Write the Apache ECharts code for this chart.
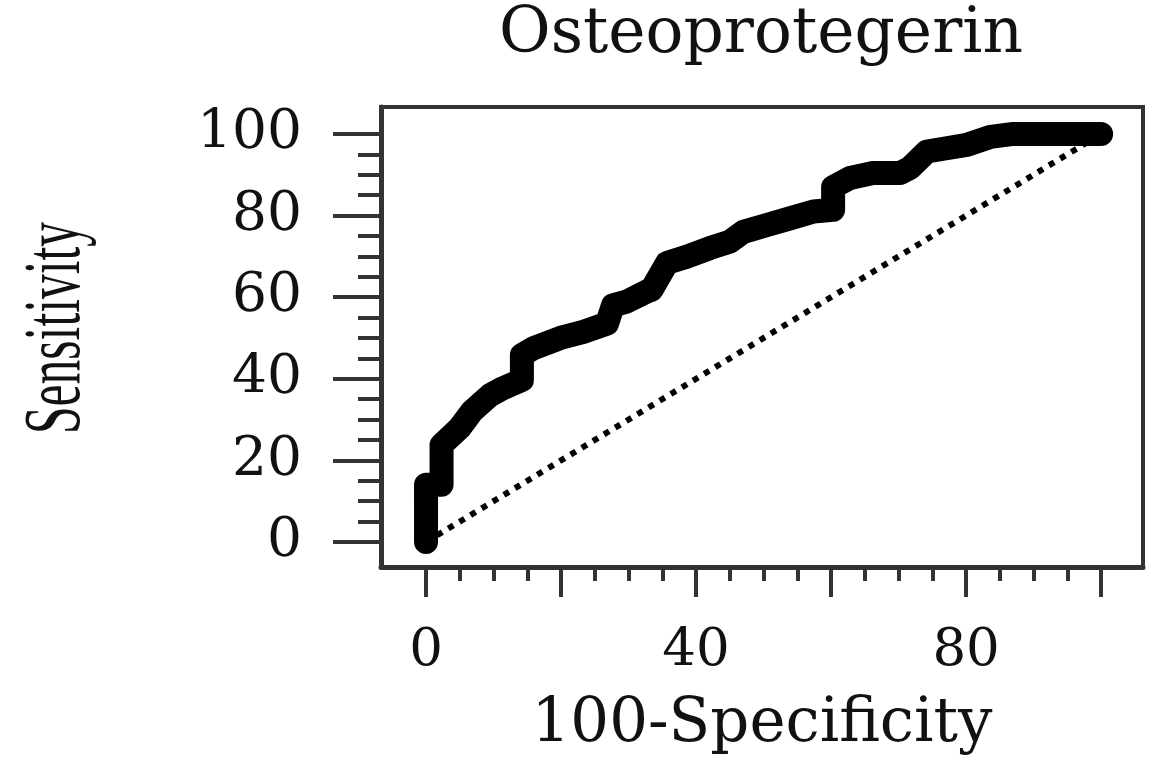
<!DOCTYPE html>
<html>
<head>
<meta charset="utf-8">
<title>Osteoprotegerin</title>
<script src="https://cdn.jsdelivr.net/npm/echarts@6/dist/echarts.min.js"></script>
<style>
  html, body { margin: 0; background: #fff; }
  #chart { width: 1164px; height: 770px; }
</style>
</head>
<body>
<div id="chart"></div>
<script>
// ROC curve (100-specificity, sensitivity)
var fpr = [0, 0, 2.3, 2.3, 5, 6.8, 9.5, 11.4, 14.2, 14.2, 15.9, 19.9, 23.3, 26.8, 27.7, 29.7,
  32.7, 33.4, 35.7, 38.6, 42, 45, 47, 50.5, 53.9, 57.4, 60.3, 60.3, 62.8, 66.2, 70.2, 71.7,
  74.2, 77.1, 80.1, 83.6, 87, 100];
var tpr = [0, 14, 14, 23.8, 28, 32, 36, 37.7, 39.7, 45.8, 47.5, 50, 51.5, 53.5, 58, 58.9,
  61.4, 61.8, 68.4, 69.9, 72, 73.6, 76, 77.7, 79.3, 81, 81.4, 87, 89.2, 90.4, 90.4, 91.7,
  95.7, 96.5, 97.3, 99.3, 100, 100];
var diagonal = [[0, 0], [100, 100]];

var xMajor = [0, 20, 40, 60, 80, 100];
var xLabels = [0, 40, 80];
var xMinor = [5, 10, 15, 25, 30, 35, 45, 50, 55, 65, 70, 75, 85, 90, 95];
var yMajor = [0, 20, 40, 60, 80, 100];
var yMinor = [5, 10, 15, 25, 30, 35, 45, 50, 55, 65, 70, 75, 85, 90, 95];

var xRange = [-6.67, 106.2];
var yRange = [-6.13, 106.6];

var curve = fpr.map(function(x, i) { return [x, tpr[i]]; });

var serif = 'DejaVu Serif';
var ink = '#333';

var chart = echarts.init(document.getElementById('chart'));
chart.setOption({
  backgroundColor: '#fff',
  animation: false,
  graphic: [{
    type: 'text',
    x: 761,
    y: 36,
    style: {
      text: 'Osteoprotegerin',
      font: '63px "' + serif + '"',
      fill: '#111',
      textAlign: 'center',
      textVerticalAlign: 'middle'
    }
  }, {
    // y axis title, squeezed along its length like the original
    type: 'text',
    x: 58,
    y: 328,
    rotation: Math.PI / 2,
    scaleX: 0.62,
    style: {
      text: 'Sensitivity',
      font: '80px "Liberation Serif"',
      fill: '#111',
      textAlign: 'center',
      textVerticalAlign: 'middle'
    }
  }],
  grid: [
    { left: 381, right: 21, top: 107, bottom: 203, show: true, borderColor: ink, borderWidth: 4 },
    { left: 381, right: 21, top: 107, bottom: 203 }
  ],
  xAxis: [{
    type: 'value', gridIndex: 0, min: xRange[0], max: xRange[1],
    axisLine: { show: true, onZero: false, lineStyle: { color: ink, width: 5 } },
    axisTick: { show: true, customValues: xMajor, length: 30, lineStyle: { color: ink, width: 4 } },
    axisLabel: { customValues: xLabels, margin: 58, fontFamily: serif, fontSize: 53, color: '#111' },
    splitLine: { show: false },
    name: '100-Specificity', nameLocation: 'middle', nameGap: 128,
    nameTextStyle: { fontFamily: serif, fontSize: 61, color: '#111' }
  }, {
    type: 'value', gridIndex: 1, min: xRange[0], max: xRange[1],
    axisLine: { show: false, onZero: false },
    axisTick: { show: true, customValues: xMinor, length: 14, lineStyle: { color: ink, width: 4 } },
    axisLabel: { show: false },
    splitLine: { show: false }
  }],
  yAxis: [{
    type: 'value', gridIndex: 0, min: yRange[0], max: yRange[1],
    axisLine: { show: true, onZero: false, lineStyle: { color: ink, width: 5 } },
    axisTick: { show: true, customValues: yMajor, length: 48, lineStyle: { color: ink, width: 4 } },
    axisLabel: { customValues: yMajor, margin: 79, fontFamily: serif, fontSize: 55, color: '#111' },
    splitLine: { show: false }
  }, {
    type: 'value', gridIndex: 1, min: yRange[0], max: yRange[1],
    axisLine: { show: false, onZero: false },
    axisTick: { show: true, customValues: yMinor, length: 23, lineStyle: { color: ink, width: 4 } },
    axisLabel: { show: false },
    splitLine: { show: false }
  }],
  series: [{
    type: 'line',
    xAxisIndex: 0, yAxisIndex: 0,
    data: diagonal,
    showSymbol: false,
    lineStyle: { color: '#000', width: 6, type: [6, 7], cap: 'butt' },
    silent: true
  }, {
    type: 'line',
    xAxisIndex: 0, yAxisIndex: 0,
    data: curve,
    showSymbol: false,
    lineStyle: { color: '#000', width: 24, cap: 'round', join: 'round' },
    silent: true,
    z: 3
  }]
});
</script>
</body>
</html>
